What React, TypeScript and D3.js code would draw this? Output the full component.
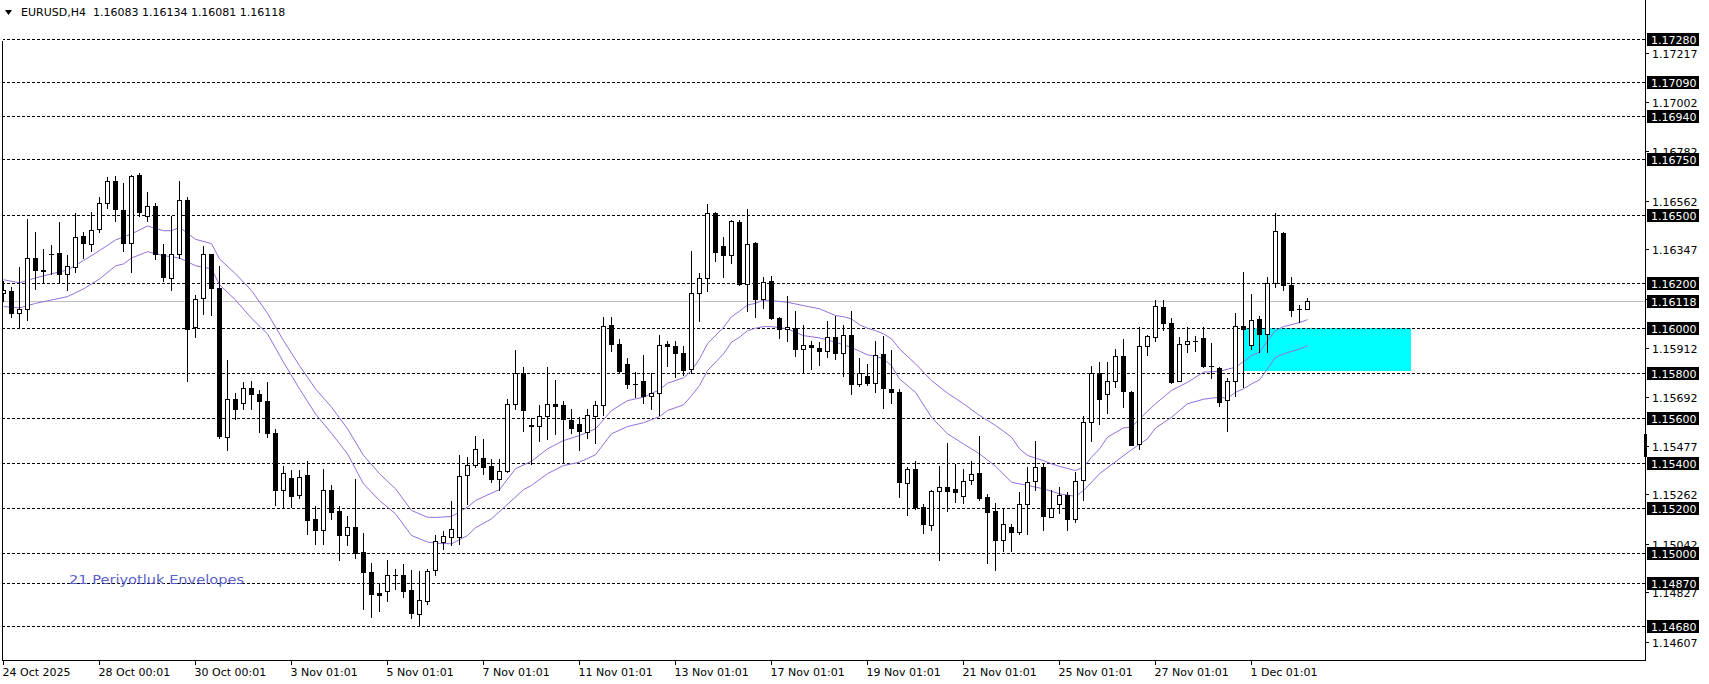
import React from "react";
import * as d3 from "d3";

// ---------- DATA ----------
const headerText = "EURUSD,H4  1.16083 1.16134 1.16081 1.16118";
const envLabel = "21 Periyotluk Envelopes";

const timeTickBars = [0, 12, 24, 36, 48, 60, 72, 84, 96, 108, 120, 132, 144, 156];
const timeTickLabels = [
  "24 Oct 2025", "28 Oct 00:01", "30 Oct 00:01", "3 Nov 01:01", "5 Nov 01:01",
  "7 Nov 01:01", "11 Nov 01:01", "13 Nov 01:01", "17 Nov 01:01", "19 Nov 01:01",
  "21 Nov 01:01", "25 Nov 01:01", "27 Nov 01:01", "1 Dec 01:01",
];

const levelPrices = [1.1728, 1.1709, 1.1694, 1.1675, 1.165, 1.162, 1.16, 1.158, 1.156, 1.154, 1.152, 1.15, 1.1487, 1.1468];
const levelLabels = ["1.17280", "1.17090", "1.16940", "1.16750", "1.16500", "1.16200", "1.16000", "1.15800", "1.15600", "1.15400", "1.15200", "1.15000", "1.14870", "1.14680"];
const axisTickPrices = [1.17217, 1.17002, 1.16782, 1.16562, 1.16347, 1.16127, 1.15912, 1.15692, 1.15477, 1.15262, 1.15042, 1.14827, 1.14607];
const axisTickLabels = ["1.17217", "1.17002", "1.16782", "1.16562", "1.16347", "1.16127", "1.15912", "1.15692", "1.15477", "1.15262", "1.15042", "1.14827", "1.14607"];
const currentPrice = 1.16118;
const currentPriceLabel = "1.16118";

const zoneTop = 1.16;
const zoneBottom = 1.1581;
const zoneStartBar = 155;
const zoneEndBar = 176;

const open = [
  1.16156, 1.16165, 1.16066, 1.16084, 1.16309, 1.16258, 1.16327, 1.16332, 1.16239, 1.16268,
  1.16407, 1.16371, 1.16436, 1.16553, 1.16651, 1.16522, 1.16374, 1.16678, 1.16495, 1.1654,
  1.16327, 1.16221, 1.16327, 1.16566, 1.16002, 1.16132, 1.16327, 1.16175, 1.15515, 1.15685,
  1.15667, 1.15735, 1.15707, 1.15676, 1.15532, 1.15282, 1.15332, 1.15258, 1.15345, 1.15153,
  1.15105, 1.15279, 1.15186, 1.15082, 1.15115, 1.15008, 1.14915, 1.14824, 1.14834, 1.14906,
  1.14906, 1.14836, 1.14732, 1.14788, 1.14927, 1.1505, 1.15072, 1.15074, 1.15348, 1.15392,
  1.15422, 1.15388, 1.15329, 1.15364, 1.15661, 1.158, 1.1557, 1.15565, 1.15608, 1.15663,
  1.15658, 1.15592, 1.15574, 1.15539, 1.15608, 1.15656, 1.16013, 1.15929, 1.1584, 1.15751,
  1.15765, 1.15696, 1.15711, 1.1593, 1.15917, 1.15886, 1.15815, 1.16154, 1.16221, 1.16509,
  1.16363, 1.16323, 1.1647, 1.16194, 1.16374, 1.16128, 1.16209, 1.16044, 1.15993, 1.15999,
  1.15905, 1.15925, 1.15912, 1.15897, 1.15961, 1.15887, 1.1597, 1.1575, 1.15788, 1.15755,
  1.15884, 1.15729, 1.15717, 1.15313, 1.15375, 1.15205, 1.15127, 1.15277, 1.15293, 1.15283,
  1.15255, 1.15326, 1.15357, 1.15251, 1.15186, 1.15058, 1.15118, 1.15096, 1.1522, 1.15322,
  1.15384, 1.15163, 1.15217, 1.1526, 1.15153, 1.15326, 1.15583, 1.158, 1.15707, 1.15765,
  1.15875, 1.15717, 1.15485, 1.1592, 1.15958, 1.16094, 1.16023, 1.15765, 1.15929, 1.15943,
  1.15956, 1.15831, 1.15822, 1.1568, 1.15765, 1.16008, 1.15924, 1.16037, 1.15973, 1.16197,
  1.16422, 1.16191, 1.16085, 1.16083,
];
const high = [
  1.16209, 1.16179, 1.16271, 1.16482, 1.16426, 1.16349, 1.16367, 1.1647, 1.16324, 1.16509,
  1.16423, 1.16515, 1.1658, 1.1667, 1.16674, 1.16643, 1.16677, 1.16687, 1.16603, 1.16551,
  1.16371, 1.16494, 1.16652, 1.16581, 1.16147, 1.16364, 1.16327, 1.16275, 1.15855, 1.15711,
  1.15761, 1.15766, 1.15726, 1.15761, 1.15552, 1.15389, 1.1537, 1.1537, 1.15408, 1.15211,
  1.15372, 1.15301, 1.15211, 1.15167, 1.1533, 1.15091, 1.14958, 1.14865, 1.14972, 1.14932,
  1.14951, 1.14927, 1.14921, 1.14932, 1.15079, 1.15101, 1.15231, 1.15434, 1.15425, 1.15518,
  1.15508, 1.15419, 1.15416, 1.15685, 1.15902, 1.15828, 1.15601, 1.15658, 1.15825, 1.1577,
  1.15677, 1.15641, 1.15603, 1.15641, 1.15677, 1.16049, 1.16046, 1.15948, 1.15868, 1.15806,
  1.15877, 1.158, 1.1597, 1.1594, 1.15939, 1.15921, 1.16342, 1.16244, 1.16549, 1.16512,
  1.16404, 1.16478, 1.16478, 1.16527, 1.16379, 1.16227, 1.16231, 1.16046, 1.16142, 1.16076,
  1.1601, 1.15943, 1.15936, 1.16032, 1.16053, 1.1601, 1.16072, 1.15865, 1.15841, 1.1594,
  1.15965, 1.15902, 1.15727, 1.15382, 1.15411, 1.15217, 1.1528, 1.15389, 1.1549, 1.15397,
  1.15375, 1.15408, 1.15518, 1.15264, 1.15225, 1.15198, 1.15128, 1.15274, 1.15382, 1.15496,
  1.15394, 1.15279, 1.15293, 1.15271, 1.1536, 1.15608, 1.15832, 1.1585, 1.15847, 1.15906,
  1.15952, 1.1572, 1.16002, 1.15966, 1.16123, 1.16123, 1.16045, 1.15961, 1.16005, 1.15965,
  1.16002, 1.15933, 1.15824, 1.15776, 1.16067, 1.16249, 1.1615, 1.16051, 1.16227, 1.16509,
  1.16425, 1.16227, 1.16103, 1.16134,
];
const low = [
  1.1612, 1.16046, 1.15999, 1.16035, 1.16172, 1.16197, 1.16239, 1.16199, 1.16168, 1.16249,
  1.16308, 1.16339, 1.16426, 1.16529, 1.16475, 1.16339, 1.16246, 1.16497, 1.16475, 1.16305,
  1.16209, 1.16168, 1.16308, 1.15766, 1.15958, 1.16061, 1.16057, 1.15512, 1.15456, 1.15596,
  1.15641, 1.15641, 1.15537, 1.15515, 1.15212, 1.15205, 1.15205, 1.15246, 1.15087, 1.15043,
  1.15043, 1.15153, 1.14972, 1.15039, 1.1498, 1.14755, 1.14717, 1.14744, 1.14788, 1.14843,
  1.14806, 1.14713, 1.1468, 1.14777, 1.14902, 1.1502, 1.15035, 1.15043, 1.1522, 1.15382,
  1.1535, 1.15315, 1.15279, 1.1536, 1.15641, 1.15541, 1.15397, 1.155, 1.15505, 1.15527,
  1.154, 1.15534, 1.1546, 1.1551, 1.15488, 1.15611, 1.15896, 1.15798, 1.15735, 1.15692,
  1.15667, 1.15639, 1.15615, 1.15829, 1.15781, 1.15791, 1.15798, 1.16032, 1.16161, 1.16297,
  1.16224, 1.16286, 1.16191, 1.16076, 1.16049, 1.16088, 1.1604, 1.15953, 1.1594, 1.15874,
  1.15806, 1.15815, 1.15834, 1.15869, 1.15862, 1.15785, 1.15707, 1.15741, 1.15748, 1.15714,
  1.15643, 1.15665, 1.15249, 1.15168, 1.15198, 1.15089, 1.15105, 1.14972, 1.15187, 1.15227,
  1.15222, 1.15308, 1.15237, 1.14957, 1.14927, 1.1501, 1.1501, 1.15087, 1.15087, 1.15279,
  1.15105, 1.1516, 1.1518, 1.15105, 1.15141, 1.15237, 1.155, 1.15574, 1.15623, 1.15736,
  1.15648, 1.15478, 1.15463, 1.15877, 1.15943, 1.1599, 1.15754, 1.15762, 1.15891, 1.15899,
  1.15825, 1.15776, 1.15655, 1.15541, 1.15699, 1.15736, 1.15906, 1.15891, 1.15891, 1.16179,
  1.16168, 1.16054, 1.16027, 1.16081,
];
const close = [
  1.16169, 1.16064, 1.16084, 1.16309, 1.16256, 1.16252, 1.16327, 1.16239, 1.16274, 1.16402,
  1.16374, 1.16433, 1.16553, 1.16651, 1.16525, 1.16374, 1.16673, 1.16511, 1.1654, 1.16327,
  1.16224, 1.16327, 1.16566, 1.15995, 1.16128, 1.16327, 1.16175, 1.15518, 1.15685, 1.15641,
  1.15735, 1.15705, 1.15676, 1.15532, 1.15282, 1.15357, 1.15253, 1.15339, 1.15149, 1.15105,
  1.15279, 1.15183, 1.15082, 1.15115, 1.15001, 1.14917, 1.14821, 1.14817, 1.14906, 1.14906,
  1.14834, 1.14735, 1.14791, 1.14921, 1.15054, 1.15076, 1.15106, 1.15342, 1.15392, 1.15463,
  1.15382, 1.15329, 1.15364, 1.15661, 1.158, 1.15637, 1.15563, 1.15608, 1.15663, 1.15652,
  1.15594, 1.15555, 1.15541, 1.15612, 1.15656, 1.16008, 1.15927, 1.1581, 1.1575, 1.15751,
  1.15696, 1.15711, 1.15924, 1.15918, 1.15887, 1.15812, 1.16154, 1.16221, 1.16509, 1.16334,
  1.16321, 1.16473, 1.16194, 1.16371, 1.16128, 1.16203, 1.16042, 1.15995, 1.16002, 1.15905,
  1.15924, 1.15913, 1.15896, 1.15961, 1.15887, 1.15968, 1.1575, 1.15798, 1.15754, 1.15879,
  1.15732, 1.15716, 1.15315, 1.15375, 1.15205, 1.15131, 1.15277, 1.15293, 1.15276, 1.15271,
  1.15322, 1.15353, 1.15244, 1.15183, 1.15058, 1.15131, 1.15094, 1.1522, 1.15315, 1.15384,
  1.15167, 1.152, 1.1526, 1.15153, 1.1532, 1.15583, 1.158, 1.15683, 1.15765, 1.15875,
  1.15719, 1.15482, 1.1592, 1.15964, 1.16097, 1.1602, 1.15761, 1.15929, 1.15942, 1.15943,
  1.15829, 1.15831, 1.1567, 1.15766, 1.16008, 1.15995, 1.16035, 1.15973, 1.16197, 1.16429,
  1.1619, 1.16079, 1.16085, 1.16118,
];

const envUpperBars = [0, 2, 4, 6, 8, 10, 12, 14, 16, 18, 20, 21, 22, 24, 26, 27, 29, 31, 33, 35, 37, 39, 41, 43, 45, 47, 49, 51, 53, 54, 56, 58, 59, 61, 62, 64, 66, 68, 70, 72, 74, 76, 78, 80, 82, 83, 85, 86, 87, 88, 90, 91, 92, 93, 94, 95, 96, 98, 100, 102, 104, 105, 106, 107, 108, 109, 110, 111, 112, 114, 116, 118, 120, 122, 124, 126, 127, 128, 129, 130, 131, 132, 134, 135, 136, 137, 138, 140, 141, 142, 144, 146, 148, 150, 152, 154, 155, 156, 157, 158, 159, 160, 162, 163];
const envUpperVals = [1.16213, 1.16199, 1.16221, 1.16239, 1.16256, 1.16298, 1.16342, 1.16389, 1.16416, 1.16451, 1.1643, 1.1643, 1.16445, 1.16392, 1.16373, 1.16305, 1.16239, 1.16165, 1.16064, 1.15943, 1.15832, 1.15729, 1.15648, 1.15552, 1.15434, 1.15353, 1.15286, 1.1519, 1.1516, 1.15159, 1.15163, 1.15205, 1.15234, 1.15267, 1.15282, 1.15375, 1.15408, 1.15463, 1.155, 1.15522, 1.15552, 1.15633, 1.15677, 1.15692, 1.15725, 1.15754, 1.15778, 1.1581, 1.15862, 1.15929, 1.16002, 1.16049, 1.16073, 1.16101, 1.16108, 1.16123, 1.1612, 1.16113, 1.16098, 1.16084, 1.16054, 1.16049, 1.16039, 1.16013, 1.15998, 1.15987, 1.15973, 1.15951, 1.15906, 1.1584, 1.15766, 1.1571, 1.15663, 1.15611, 1.15567, 1.15515, 1.15463, 1.15434, 1.15422, 1.15411, 1.15397, 1.15385, 1.15367, 1.15382, 1.15426, 1.15463, 1.15515, 1.15556, 1.15559, 1.15596, 1.15663, 1.15722, 1.15758, 1.15803, 1.15807, 1.15825, 1.1585, 1.15877, 1.15891, 1.15943, 1.15987, 1.16005, 1.16023, 1.16036];
const envLowerBars = [0, 2, 4, 6, 8, 10, 12, 14, 15, 16, 18, 20, 22, 24, 26, 27, 29, 31, 33, 35, 37, 39, 41, 43, 45, 47, 49, 51, 53, 54, 56, 58, 59, 61, 65, 66, 68, 70, 72, 74, 76, 78, 80, 82, 83, 85, 86, 87, 88, 90, 91, 92, 93, 94, 95, 96, 98, 100, 102, 104, 106, 107, 108, 109, 110, 111, 112, 114, 116, 118, 120, 122, 124, 126, 128, 130, 132, 134, 135, 136, 137, 141, 143, 144, 146, 148, 150, 152, 153, 154, 155, 156, 157, 158, 159, 160, 162, 163];
const envLowerVals = [1.16094, 1.16088, 1.16108, 1.16123, 1.16138, 1.16172, 1.16216, 1.16274, 1.16283, 1.16309, 1.16337, 1.1632, 1.16309, 1.16275, 1.16261, 1.16191, 1.16123, 1.16042, 1.15973, 1.15847, 1.15729, 1.15618, 1.15532, 1.15441, 1.15308, 1.15234, 1.15175, 1.15079, 1.1505, 1.15045, 1.15042, 1.15079, 1.15113, 1.15153, 1.15282, 1.15301, 1.15353, 1.15389, 1.15404, 1.15437, 1.1553, 1.15562, 1.15579, 1.15606, 1.15633, 1.15658, 1.15699, 1.15744, 1.1581, 1.15884, 1.15936, 1.15958, 1.15987, 1.15998, 1.16005, 1.16005, 1.15995, 1.15965, 1.15955, 1.15936, 1.15913, 1.15896, 1.1588, 1.15874, 1.15862, 1.15832, 1.15773, 1.15714, 1.15603, 1.1553, 1.15485, 1.15441, 1.15386, 1.15315, 1.15301, 1.15286, 1.15264, 1.15252, 1.15279, 1.15315, 1.15353, 1.15459, 1.15508, 1.15555, 1.15603, 1.15663, 1.15683, 1.15692, 1.15687, 1.15714, 1.15729, 1.15751, 1.15769, 1.15818, 1.15869, 1.15884, 1.15906, 1.1592];

// ---------- LAYOUT ----------
const W = 1709;
const H = 684;
const PLOT_LEFT = 2;
const PLOT_RIGHT = 1645;
const PLOT_BOTTOM = 660;
const FONT = "'DejaVu Sans', Verdana, sans-serif";

const x = d3.scaleLinear().domain([0, 1]).range([3.5, 11.5]);
const y = d3.scaleLinear().domain([1.1468, 1.1728]).range([625.5, 39]);
const py = (p: number) => Math.round(y(p));

export default function App() {
  const upperLine = d3
    .line<number>()
    .x((_, k) => x(envUpperBars[k]))
    .y((v) => y(v))(envUpperVals) as string;
  const lowerLine = d3
    .line<number>()
    .x((_, k) => x(envLowerBars[k]))
    .y((v) => y(v))(envLowerVals) as string;

  const candles = open.map((o, i) => ({ i, o, h: high[i], l: low[i], c: close[i] }));

  return (
    <div style={{ position: "absolute", left: 0, top: 0, width: W, height: H, background: "#fff" }}>
      <svg width={W} height={H} style={{ display: "block" }} fontFamily={FONT}>
        <defs>
          <clipPath id="plotClip">
            <rect x={PLOT_LEFT + 1} y={0} width={PLOT_RIGHT - PLOT_LEFT - 1} height={PLOT_BOTTOM} />
          </clipPath>
        </defs>
        <rect x={0} y={0} width={W} height={H} fill="#fff" />

        <g clipPath="url(#plotClip)">
          {/* cyan zone */}
          <rect
            x={x(zoneStartBar) - 0.5}
            y={py(zoneTop)}
            width={x(zoneEndBar) - x(zoneStartBar)}
            height={py(zoneBottom) - py(zoneTop)}
            fill="#00ffff"
          />
          {/* dashed levels */}
          {levelPrices.map((p, k) => (
            <line
              key={"lv" + k}
              x1={PLOT_LEFT}
              x2={PLOT_RIGHT}
              y1={py(p) + 0.5}
              y2={py(p) + 0.5}
              stroke="#000"
              strokeWidth={1}
              strokeDasharray="3,2"
            />
          ))}
          {/* current price line */}
          <line x1={PLOT_LEFT} x2={PLOT_RIGHT} y1={py(currentPrice) + 0.5} y2={py(currentPrice) + 0.5} stroke="#c0c0c0" strokeWidth={1} />
          {/* envelopes */}
          <path d={upperLine} fill="none" stroke="#9370db" strokeWidth={1} />
          <path d={lowerLine} fill="none" stroke="#9370db" strokeWidth={1} />
          {/* candles */}
          {candles.map((d) => {
            const cx = x(d.i);
            const yh = py(d.h);
            const yl = py(d.l);
            const top = py(Math.max(d.o, d.c));
            const bot = py(Math.min(d.o, d.c));
            const els = [
              <rect key="w" x={cx - 0.5} y={yh} width={1} height={Math.max(1, yl - yh + 1)} fill="#000" />,
            ];
            if (d.o === d.c || bot - top < 1) {
              els.push(<rect key="b" x={cx - 2.5} y={top} width={5} height={1} fill="#000" />);
            } else if (d.c > d.o) {
              els.push(
                <rect key="b" x={cx - 2} y={top + 0.5} width={4} height={bot - top} fill="#fff" stroke="#000" strokeWidth={1} />
              );
            } else {
              els.push(<rect key="b" x={cx - 2.5} y={top} width={5} height={bot - top + 1} fill="#000" />);
            }
            return <g key={"c" + d.i}>{els}</g>;
          })}
          {/* envelope label */}
          <text x={69} y={584} fontSize={13} fill="#5b5fc8" textLength={175} lengthAdjust="spacingAndGlyphs">
            {envLabel}
          </text>
        </g>

        {/* frame */}
        <line x1={PLOT_LEFT + 0.5} x2={PLOT_LEFT + 0.5} y1={41} y2={PLOT_BOTTOM + 1} stroke="#000" />
        <line x1={PLOT_RIGHT + 0.5} x2={PLOT_RIGHT + 0.5} y1={0} y2={PLOT_BOTTOM + 1} stroke="#000" />
        <line x1={PLOT_LEFT} x2={PLOT_RIGHT + 1} y1={PLOT_BOTTOM + 0.5} y2={PLOT_BOTTOM + 0.5} stroke="#000" />

        {/* right axis plain tick labels */}
        {axisTickPrices.map((p, k) => (
          <g key={"at" + k}>
            <line x1={PLOT_RIGHT} x2={PLOT_RIGHT + 4} y1={py(p) + 0.5} y2={py(p) + 0.5} stroke="#000" />
            <text x={PLOT_RIGHT + 7} y={py(p) + 4.5} fontSize={11} fill="#000">
              {axisTickLabels[k]}
            </text>
          </g>
        ))}
        {/* level boxes */}
        {levelPrices.map((p, k) => (
          <g key={"lb" + k}>
            <rect x={PLOT_RIGHT + 2} y={py(p) - 6} width={52} height={13} fill="#000" />
            <text x={PLOT_RIGHT + 6} y={py(p) + 4.5} fontSize={11} fill="#fff">
              {levelLabels[k]}
            </text>
          </g>
        ))}
        <g>
          <rect x={PLOT_RIGHT + 2} y={py(currentPrice) - 6} width={52} height={13} fill="#000" />
          <text x={PLOT_RIGHT + 6} y={py(currentPrice) + 4.5} fontSize={11} fill="#fff">
            {currentPriceLabel}
          </text>
        </g>
        <rect x={PLOT_RIGHT - 1} y={434} width={3} height={23} fill="#000" />

        {/* time axis */}
        {timeTickBars.map((b, k) => (
          <g key={"tt" + k}>
            <line x1={x(b)} x2={x(b)} y1={PLOT_BOTTOM} y2={PLOT_BOTTOM + 5} stroke="#000" />
            <text x={x(b) - 1} y={676} fontSize={11} fill="#000">
              {timeTickLabels[k]}
            </text>
          </g>
        ))}

        {/* header */}
        <path d="M5,10 L12,10 L8.5,15 Z" fill="#000" />
        <text x={21} y={16} fontSize={11} fill="#000" style={{ whiteSpace: "pre" }}>
          {headerText}
        </text>
      </svg>
    </div>
  );
}
